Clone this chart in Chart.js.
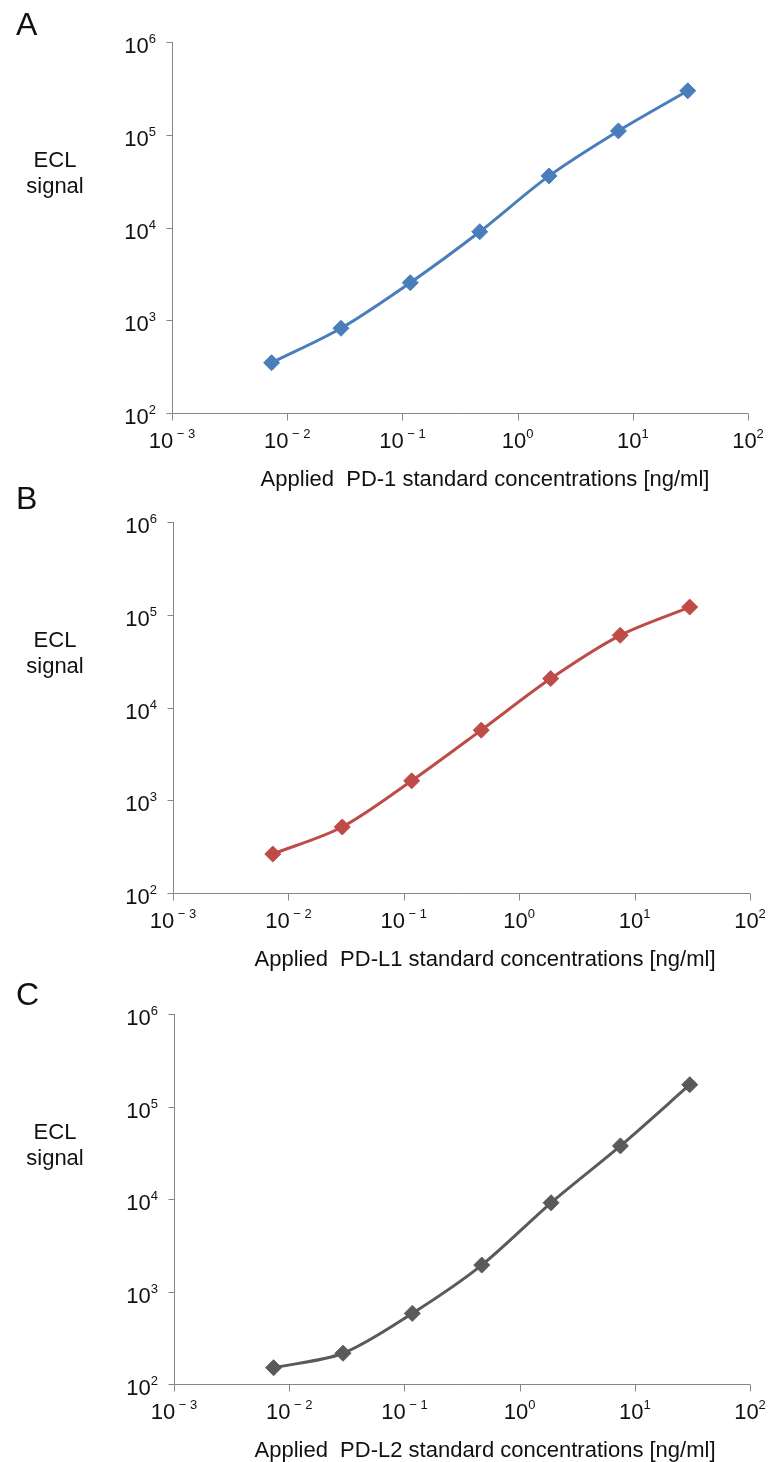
<!DOCTYPE html>
<html>
<head>
<meta charset="utf-8">
<title>ECL standard curves</title>
<script src="https://cdn.jsdelivr.net/npm/chart.js@4.4.1/dist/chart.umd.min.js"></script>
<style>
  html, body { margin: 0; padding: 0; background: #ffffff; }
  .panel { position: absolute; left: 0; width: 768px; }
  canvas { display: block; }
</style>
</head>
<body>
<div class="panel" style="top:0"><canvas id="chart-a" width="768" height="500"></canvas></div>
<div class="panel" style="top:472px"><canvas id="chart-b" width="768" height="505"></canvas></div>
<div class="panel" style="top:962px"><canvas id="chart-c" width="768" height="500"></canvas></div>
<script>
// Data (4-fold dilution series of the standard)
const concentrations = [0.00732, 0.0293, 0.117, 0.469, 1.875, 7.5, 30];
const pd1Signal  = [348, 820, 2540, 9000, 36000, 110000, 298000];
const pdl1Signal = [263, 515, 1620, 5700, 20500, 60000, 121000];
const pdl2Signal = [150, 215, 580, 1930, 9100, 37500, 172000];

// Tick labels are powers of ten, kept as exponents
const xTickExponents = [-3, -2, -1, 0, 1, 2];
const yTickExponents = [2, 3, 4, 5, 6];

const panelLetters = ['A', 'B', 'C'];
const axisTitles = [
  'Applied  PD-1 standard concentrations [ng/ml]',
  'Applied  PD-L1 standard concentrations [ng/ml]',
  'Applied  PD-L2 standard concentrations [ng/ml]'
];
const yTitleLines = ['ECL', 'signal'];

const FONT = '"Liberation Sans", Arial, sans-serif';
const TEXT_COLOR = '#111111';
const AXIS_COLOR = '#868686';

// I draw axis lines, decade ticks and the superscript labels myself
const panelAxes = {
  id: 'panelAxes',
  beforeDatasetsDraw(chart, args, opts) {
    const ctx = chart.ctx;
    const area = chart.chartArea;
    const xs = chart.scales.x;
    const ys = chart.scales.y;
    const left = Math.round(area.left) + 0.5;
    const bottom = Math.round(area.bottom) + 0.5;

    ctx.save();
    ctx.strokeStyle = AXIS_COLOR;
    ctx.lineWidth = 1;
    ctx.beginPath();
    ctx.moveTo(left, Math.round(area.top));
    ctx.lineTo(left, bottom);
    ctx.lineTo(Math.round(area.right), bottom);
    yTickExponents.forEach(e => {
      const py = Math.round(ys.getPixelForValue(Math.pow(10, e))) + 0.5;
      ctx.moveTo(left - 6, py);
      ctx.lineTo(left, py);
    });
    xTickExponents.forEach(e => {
      const px = Math.round(xs.getPixelForValue(Math.pow(10, e))) + 0.5;
      ctx.moveTo(px, bottom);
      ctx.lineTo(px, bottom + 7);
    });
    ctx.stroke();
    ctx.restore();
  },
  afterDraw(chart, args, opts) {
    const ctx = chart.ctx;
    const area = chart.chartArea;
    const xs = chart.scales.x;
    const ys = chart.scales.y;
    const baseFont = '22px ' + FONT;
    const expFont = '13px ' + FONT;

    ctx.save();
    ctx.fillStyle = TEXT_COLOR;
    ctx.textBaseline = 'alphabetic';

    const expText = e => (e < 0 ? ' \u2212 ' + (-e) : String(e));

    // y tick labels, right aligned next to the axis
    yTickExponents.forEach(e => {
      const py = ys.getPixelForValue(Math.pow(10, e));
      ctx.font = expFont;
      const ew = ctx.measureText(expText(e)).width;
      ctx.font = baseFont;
      const bw = ctx.measureText('10').width;
      const rightEdge = area.left - 16;
      ctx.textAlign = 'left';
      ctx.fillText('10', rightEdge - ew - bw, py + 11);
      ctx.font = expFont;
      ctx.fillText(expText(e), rightEdge - ew, py + 1);
    });

    // x tick labels, centred under each tick
    xTickExponents.forEach(e => {
      const px = xs.getPixelForValue(Math.pow(10, e));
      ctx.font = expFont;
      const ew = ctx.measureText(expText(e)).width;
      ctx.font = baseFont;
      const bw = ctx.measureText('10').width;
      const start = px - (bw + ew) / 2;
      ctx.textAlign = 'left';
      ctx.fillText('10', start, area.bottom + 35);
      ctx.font = expFont;
      ctx.fillText(expText(e), start + bw, area.bottom + 25);
    });

    // x axis title
    ctx.font = baseFont;
    ctx.textAlign = 'center';
    ctx.fillText(opts.title, opts.titleX, area.bottom + 73);

    // y axis title on two lines
    ctx.fillText(yTitleLines[0], opts.yTitleX, area.top + 125);
    ctx.fillText(yTitleLines[1], opts.yTitleX, area.top + 151);

    // panel letter
    ctx.font = '32px ' + FONT;
    ctx.textAlign = 'left';
    ctx.fillText(opts.letter, 16, opts.letterY);
    ctx.restore();
  }
};

function makePanel(canvasId, idx, values, color, box) {
  const canvas = document.getElementById(canvasId);
  const points = concentrations.map((c, i) => ({ x: c, y: values[i] }));
  return new Chart(canvas, {
    type: 'line',
    data: {
      datasets: [{
        data: points,
        borderColor: color,
        backgroundColor: color,
        borderWidth: 3,
        tension: 0.3,
        pointStyle: 'rectRot',
        pointRadius: 8,
        pointBorderWidth: 1,
        pointBorderColor: color,
        pointBackgroundColor: color,
        fill: false
      }]
    },
    options: {
      responsive: false,
      animation: false,
      devicePixelRatio: 1,
      layout: {
        padding: {
          left: box.left,
          right: canvas.width - box.right,
          top: box.top,
          bottom: canvas.height - box.bottom
        }
      },
      scales: {
        x: { type: 'logarithmic', min: 0.001, max: 100, display: false },
        y: { type: 'logarithmic', min: 100, max: 1000000, display: false }
      },
      plugins: {
        legend: { display: false },
        tooltip: { enabled: false },
        panelAxes: {
          letter: panelLetters[idx],
          title: axisTitles[idx],
          titleX: 485,
          yTitleX: 55,
          letterY: box.letterY
        }
      }
    },
    plugins: [panelAxes]
  });
}

// boxes are in each canvas's own pixels (canvas tops: 0, 472, 962)
makePanel('chart-a', 0, pd1Signal, '#4A7EBB', { left: 172, right: 748, top: 42, bottom: 413, letterY: 35 });
makePanel('chart-b', 1, pdl1Signal, '#BE4B48', { left: 173, right: 750, top: 50, bottom: 421, letterY: 37 });
makePanel('chart-c', 2, pdl2Signal, '#5A5A5A', { left: 174, right: 750, top: 52, bottom: 422, letterY: 43 });
</script>
</body>
</html>
